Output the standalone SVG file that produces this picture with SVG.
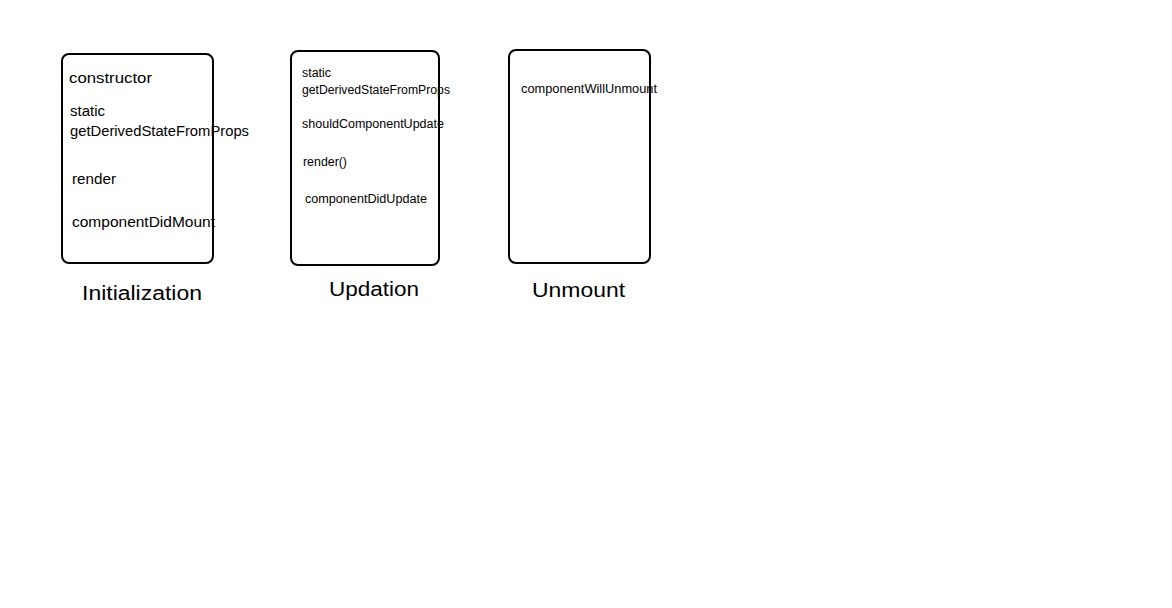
<svg xmlns="http://www.w3.org/2000/svg" width="1172" height="608" viewBox="0 0 1172 608">
<style>
.box{fill:#fff;stroke:#000;stroke-width:2}
text{font-family:"Liberation Sans","DejaVu Sans",sans-serif;fill:#000}
.m{font-size:14px}
.s{font-size:12px}
.t{font-size:20px}
</style>
<rect width="1172" height="608" fill="#fff"/>
<g id="initialization">
<rect class="box" x="62" y="54" width="151" height="209" rx="7"/>
<text class="m" x="69" y="83" textLength="83" lengthAdjust="spacingAndGlyphs">constructor</text>
<text class="m" x="70" y="116" textLength="35" lengthAdjust="spacingAndGlyphs">static</text>
<text class="m" x="70" y="136" textLength="179" lengthAdjust="spacingAndGlyphs">getDerivedStateFromProps</text>
<text class="m" x="72" y="184" textLength="44" lengthAdjust="spacingAndGlyphs">render</text>
<text class="m" x="72" y="227" textLength="143" lengthAdjust="spacingAndGlyphs">componentDidMount</text>
<text class="t" x="82" y="300" textLength="120" lengthAdjust="spacingAndGlyphs">Initialization</text>
</g>
<g id="updation">
<rect class="box" x="291" y="51" width="148" height="214" rx="7"/>
<text class="s" x="302" y="77" textLength="29" lengthAdjust="spacingAndGlyphs">static</text>
<text class="s" x="302" y="94" textLength="148" lengthAdjust="spacingAndGlyphs">getDerivedStateFromProps</text>
<text class="s" x="302" y="128" textLength="142" lengthAdjust="spacingAndGlyphs">shouldComponentUpdate</text>
<text class="s" x="303" y="166" textLength="44" lengthAdjust="spacingAndGlyphs">render()</text>
<text class="s" x="305" y="203" textLength="122" lengthAdjust="spacingAndGlyphs">componentDidUpdate</text>
<text class="t" x="329" y="296" textLength="90" lengthAdjust="spacingAndGlyphs">Updation</text>
</g>
<g id="unmount">
<rect class="box" x="509" y="50" width="141" height="213" rx="7"/>
<text class="s" x="521" y="93" textLength="136" lengthAdjust="spacingAndGlyphs">componentWillUnmount</text>
<text class="t" x="532" y="297" textLength="93" lengthAdjust="spacingAndGlyphs">Unmount</text>
</g>
<g id="connectors"></g>
</svg>
